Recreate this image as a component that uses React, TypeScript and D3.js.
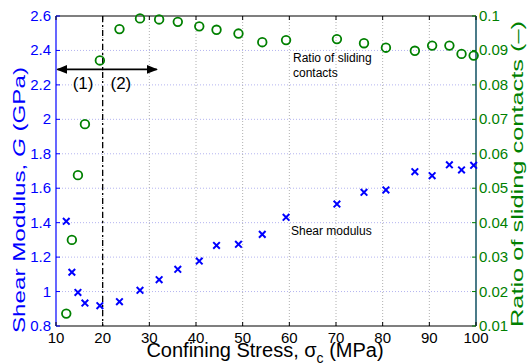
import React from "react";
import * as d3 from "d3";

// confining stress (MPa) of each test
const stress = [12.2, 13.4, 14.7, 16.2, 19.4, 23.6, 28.0, 32.1, 36.1, 40.7, 44.4, 49.1, 54.2, 59.3, 70.2, 76.0, 80.7, 86.9, 90.6, 94.3, 96.9, 99.5];
// shear modulus G (GPa)
const shearMod = [1.408, 1.112, 0.995, 0.933, 0.918, 0.941, 1.007, 1.069, 1.129, 1.177, 1.268, 1.274, 1.332, 1.431, 1.508, 1.576, 1.59, 1.696, 1.673, 1.736, 1.706, 1.733];
// ratio of sliding contacts
const slideRatio = [0.0136, 0.035, 0.0538, 0.0686, 0.0871, 0.0962, 0.0993, 0.099, 0.0983, 0.097, 0.096, 0.0949, 0.0924, 0.093, 0.0933, 0.0921, 0.0908, 0.0899, 0.0914, 0.0914, 0.089, 0.0885];

const xTicks = [10, 20, 30, 40, 50, 60, 70, 80, 90, 100];
const gTicks = [0.8, 1, 1.2, 1.4, 1.6, 1.8, 2, 2.2, 2.4, 2.6];
const rTicks = [0.01, 0.02, 0.03, 0.04, 0.05, 0.06, 0.07, 0.08, 0.09, 0.1];

const W = 529, H = 364;
const left = 56, right = 476, top = 16, bottom = 326;
const BLUE = "#0000ff";
const GREEN = "#008000";
const FONT = "Liberation Sans, Arial, sans-serif";

export default function App() {
  const x = d3.scaleLinear().domain([10, 100]).range([left, right]);
  const yG = d3.scaleLinear().domain([0.8, 2.6]).range([bottom, top]);
  const yR = d3.scaleLinear().domain([0.01, 0.1]).range([bottom, top]);

  const arrowY = yG(2.29);
  const ax1 = x(10.3), ax2 = x(31.6);

  return (
    <svg width={W} height={H} style={{ position: "absolute", left: 0, top: 0, background: "#fff" }} fontFamily={FONT}>
      <defs>
        <marker id="ah" viewBox="0 0 10 10" refX="9" refY="5" markerWidth="7" markerHeight="7" orient="auto-start-reverse">
          <path d="M0,1 L10,5 L0,9 Z" fill="#000" />
        </marker>
      </defs>
      {/* grid */}
      {gTicks.slice(1, -1).map(t => (
        <line key={"hg" + t} x1={left} x2={right} y1={yG(t)} y2={yG(t)} stroke="#b4b4f0" strokeWidth={1} strokeDasharray="1,2" />
      ))}
      {xTicks.slice(1, -1).map(t => (
        <line key={"vg" + t} x1={x(t)} x2={x(t)} y1={top} y2={bottom} stroke="#b0b0b0" strokeWidth={1} strokeDasharray="1,2" />
      ))}
      {/* regime divider */}
      <line x1={x(20)} x2={x(20)} y1={top} y2={bottom} stroke="#000" strokeWidth={1.3} strokeDasharray="6,3,2,3" />
      <line x1={ax1} x2={ax2} y1={arrowY} y2={arrowY} stroke="#000" strokeWidth={1.6} markerStart="url(#ah)" markerEnd="url(#ah)" />
      <text x={x(15.8)} y={arrowY + 20} fontSize={17} textAnchor="middle" fill="#000">(1)</text>
      <text x={x(23.9)} y={arrowY + 20} fontSize={17} textAnchor="middle" fill="#000">(2)</text>

      {/* frame */}
      <line x1={left} x2={right} y1={top} y2={top} stroke="#000" strokeWidth={1.2} />
      <line x1={left} x2={right} y1={bottom} y2={bottom} stroke="#000" strokeWidth={1.2} />
      <line x1={left} x2={left} y1={top} y2={bottom} stroke={BLUE} strokeWidth={1.2} />
      <line x1={right} x2={right} y1={top} y2={bottom} stroke="#1d5b6b" strokeWidth={1.6} />

      {/* x ticks */}
      {xTicks.map(t => (
        <g key={"xt" + t}>
          <line x1={x(t)} x2={x(t)} y1={bottom} y2={bottom - 4} stroke="#000" />
          <line x1={x(t)} x2={x(t)} y1={top} y2={top + 4} stroke="#000" />
          <text x={x(t)} y={bottom + 17} fontSize={15} textAnchor="middle" fill="#000">{t}</text>
        </g>
      ))}
      {/* left ticks */}
      {gTicks.map(t => (
        <g key={"gt" + t}>
          <line x1={left} x2={left + 4} y1={yG(t)} y2={yG(t)} stroke={BLUE} />
          <text x={left - 5} y={yG(t) + 5} fontSize={15} textAnchor="end" fill={BLUE}>{d3.format("~g")(t)}</text>
        </g>
      ))}
      {/* right ticks */}
      {rTicks.map(t => (
        <g key={"rt" + t}>
          <line x1={right} x2={right - 4} y1={yR(t)} y2={yR(t)} stroke={GREEN} />
          <text x={right + 3} y={yR(t) + 5} fontSize={15} textAnchor="start" fill={GREEN}>{d3.format("~g")(t)}</text>
        </g>
      ))}

      {/* axis titles */}
      <text transform="translate(25,200) rotate(-90)" fontSize={17} textAnchor="middle" fill={BLUE}
        textLength={266} lengthAdjust="spacingAndGlyphs">
        Shear Modulus, <tspan fontStyle="italic">G</tspan> (GPa)
      </text>
      <text transform="translate(523,174) rotate(-90)" fontSize={17} textAnchor="middle" fill={GREEN}
        textLength={306} lengthAdjust="spacingAndGlyphs">
        Ratio of sliding contacts (–)
      </text>
      <text x={265} y={357} fontSize={20} textAnchor="middle" fill="#000">
        Confining Stress, σ<tspan fontSize={14} dy={6}>c</tspan><tspan dy={-6}> (MPa)</tspan>
      </text>

      {/* annotations */}
      <text x={293} y={62} fontSize={12} fill="#000">Ratio of sliding</text>
      <text x={293} y={77} fontSize={12} fill="#000">contacts</text>
      <text x={291} y={235} fontSize={12} fill="#000">Shear modulus</text>

      {/* data */}
      {stress.map((s, i) => (
        <circle key={"c" + i} cx={x(s)} cy={yR(slideRatio[i])} r={4.3} fill="none" stroke={GREEN} strokeWidth={1.8} />
      ))}
      {stress.map((s, i) => {
        const cx = x(s), cy = yG(shearMod[i]), d = 3.3;
        return (
          <path key={"x" + i} d={`M${cx - d},${cy - d}L${cx + d},${cy + d}M${cx - d},${cy + d}L${cx + d},${cy - d}`} stroke={BLUE} strokeWidth={2} />
        );
      })}
    </svg>
  );
}
